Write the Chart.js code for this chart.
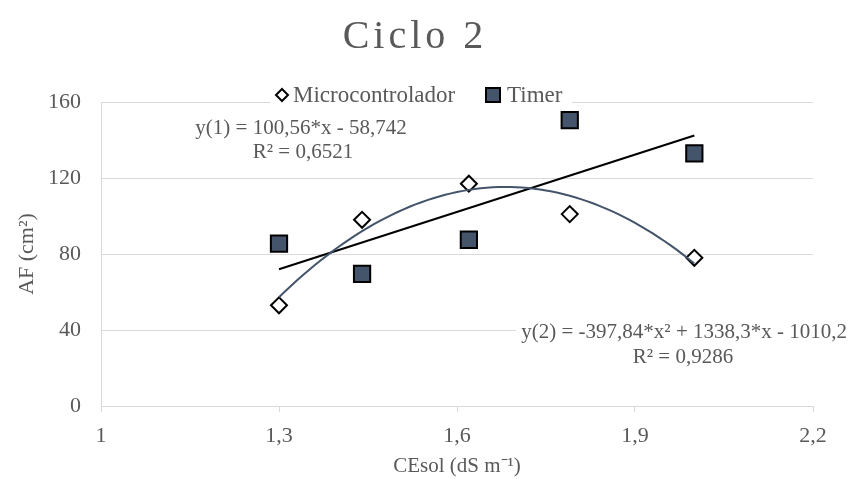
<!DOCTYPE html>
<html>
<head>
<meta charset="utf-8">
<script src="https://cdn.jsdelivr.net/npm/chart.js@4"></script>
<style>
  html, body { margin: 0; padding: 0; background: #fff; }
  #wrap { width: 850px; height: 479px; position: relative; }
</style>
</head>
<body>
<div id="wrap"><canvas id="c" width="850" height="479"></canvas></div>
<script>
// CEsol levels (dS m-1)
const ceSol = [1.3, 1.44, 1.62, 1.79, 2.0];
// Leaf area (cm²) per irrigation control
const afMicrocontrolador = [53, 98, 117, 101, 78];
const afTimer = [85.5, 69.5, 87.5, 150.5, 133];

// Trendline coefficients, highest power first
const coefTimer = [100.56, -58.742];                 // y(1), linear
const coefMicro = [-397.84, 1338.3, -1010.2];         // y(2), quadratic
const r2Timer = '0,6521';
const r2Micro = '0,9286';

const xTicks = [1, 1.3, 1.6, 1.9, 2.2];
const yTicks = [0, 40, 80, 120, 160];

const SERIF = '"Liberation Serif", "Times New Roman", serif';
const TEXT = '#595959';
const SLATE = '#44546a';
const GRID = '#d9d9d9';

function polyval(c, x) {
  return c.reduce((acc, k) => acc * x + k, 0);
}
// trendlines span the data range
function trendPoints(coef, steps) {
  const x0 = Math.min(...ceSol), x1 = Math.max(...ceSol);
  const pts = [];
  for (let i = 0; i <= steps; i++) {
    const x = x0 + (x1 - x0) * i / steps;
    pts.push({ x, y: polyval(coef, x) });
  }
  return pts;
}
const fmt = v => Number(v.toFixed(1)).toString().replace('.', ',');

// legend and equation boxes have a white fill over the gridlines
const boxes = {
  id: 'boxes',
  beforeDatasetsDraw(chart) {
    const ctx = chart.ctx;
    ctx.save();
    ctx.fillStyle = '#fff';
    ctx.fillRect(270, 85, 302, 25);
    ctx.fillRect(516, 318, 334, 52);
    ctx.restore();
  }
};

const overlay = {
  id: 'overlay',
  afterDraw(chart) {
    const ctx = chart.ctx;
    ctx.save();
    // title
    ctx.fillStyle = TEXT;
    ctx.font = '40px ' + SERIF;
    ctx.textAlign = 'center';
    ctx.textBaseline = 'middle';
    ctx.letterSpacing = '4px';
    ctx.fillText('Ciclo 2', 415, 37);
    ctx.letterSpacing = '0px';

    // legend
    ctx.font = '23px ' + SERIF;
    ctx.textAlign = 'left';
    ctx.lineWidth = 2;
    ctx.strokeStyle = '#000';
    ctx.fillStyle = '#fff';
    ctx.beginPath();
    ctx.moveTo(282, 89); ctx.lineTo(288, 95); ctx.lineTo(282, 101); ctx.lineTo(276, 95); ctx.closePath();
    ctx.fill(); ctx.stroke();
    ctx.fillStyle = TEXT;
    ctx.fillText('Microcontrolador', 293, 96);
    ctx.fillStyle = SLATE;
    ctx.fillRect(486, 88, 14, 14);
    ctx.strokeRect(486, 88, 14, 14);
    ctx.fillStyle = TEXT;
    ctx.fillText('Timer', 507, 96);

    // trendline equations
    ctx.font = '21px ' + SERIF;
    ctx.textAlign = 'center';
    ctx.fillText('y(1) = 100,56*x - 58,742', 301, 128);
    ctx.fillText('R² = ' + r2Timer, 303, 152);

    ctx.textAlign = 'right';
    ctx.fillText('y(2) = -397,84*x² + 1338,3*x - 1010,2', 847, 332);
    ctx.textAlign = 'center';
    ctx.fillText('R² = ' + r2Micro, 683, 357);
    ctx.restore();
  }
};

new Chart(document.getElementById('c'), {
  type: 'scatter',
  data: {
    datasets: [
      {
        label: 'Poly. (Microcontrolador)',
        type: 'line',
        data: trendPoints(coefMicro, 70),
        borderColor: SLATE,
        borderWidth: 2,
        pointRadius: 0,
        fill: false,
        tension: 0
      },
      {
        label: 'Linear (Timer)',
        type: 'line',
        data: trendPoints(coefTimer, 1),
        borderColor: '#000',
        borderWidth: 2,
        pointRadius: 0,
        fill: false
      },
      {
        label: 'Microcontrolador',
        data: ceSol.map((x, i) => ({ x, y: afMicrocontrolador[i] })),
        pointStyle: 'rectRot',
        pointRadius: 8,
        backgroundColor: '#fff',
        borderColor: '#000',
        borderWidth: 2
      },
      {
        label: 'Timer',
        data: ceSol.map((x, i) => ({ x, y: afTimer[i] })),
        pointStyle: 'rect',
        pointRadius: 11.5,
        backgroundColor: SLATE,
        borderColor: '#000',
        borderWidth: 2
      }
    ]
  },
  options: {
    responsive: false,
    animation: false,
    layout: { padding: { top: 102, right: 37, left: 0, bottom: 0 } },
    plugins: {
      legend: { display: false },
      title: { display: false },
      tooltip: { enabled: false }
    },
    scales: {
      x: {
        type: 'linear',
        min: 1, max: 2.2,
        afterBuildTicks: s => { s.ticks = xTicks.map(v => ({ value: v })); },
        afterFit: s => { s.height = 73; },
        grid: { drawOnChartArea: false, drawTicks: true, tickLength: 6, color: GRID },
        border: { color: GRID, width: 1 },
        ticks: { color: TEXT, font: { family: SERIF, size: 22 }, padding: 11, callback: v => fmt(v) },
        title: { display: true, text: 'CEsol (dS m⁻¹)', color: TEXT, font: { family: SERIF, size: 21 }, padding: { top: 0, bottom: 0 } }
      },
      y: {
        min: 0, max: 160,
        afterBuildTicks: s => { s.ticks = yTicks.map(v => ({ value: v })); },
        afterFit: s => { s.width = 101; },
        grid: { color: GRID, drawTicks: false },
        border: { color: GRID, width: 1 },
        ticks: { color: TEXT, font: { family: SERIF, size: 22 }, padding: 20 },
        title: { display: true, text: 'AF (cm²)', color: TEXT, font: { family: SERIF, size: 22 }, padding: { top: 14, bottom: 0 } }
      }
    }
  },
  plugins: [boxes, overlay]
});
</script>
</body>
</html>
